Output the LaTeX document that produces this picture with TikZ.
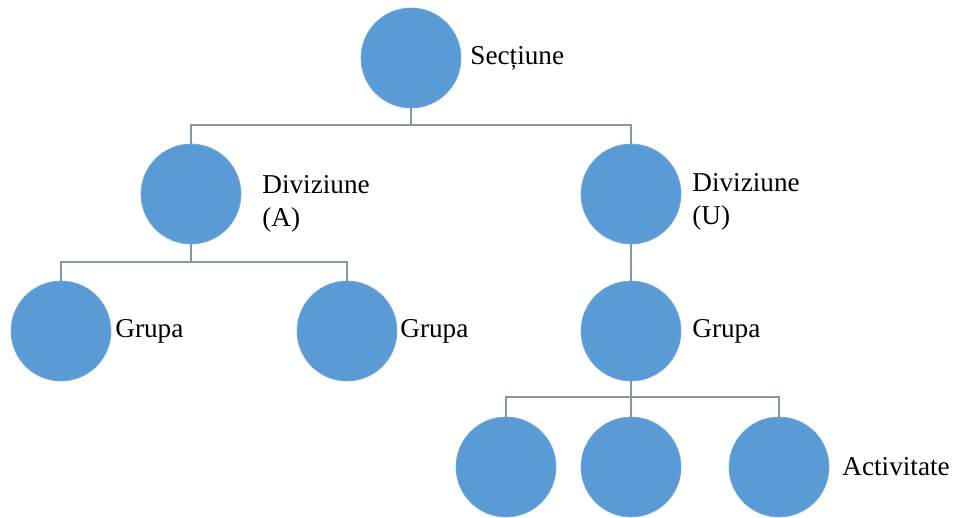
\documentclass[tikz,border=0pt]{standalone}
\usepackage{fontspec}
\setmainfont{Liberation Serif}
\usetikzlibrary{positioning}
\definecolor{nodeblue}{RGB}{91,155,213}
\definecolor{linkgray}{RGB}{128,152,172}

\begin{document}
\begin{tikzpicture}[
        x=0.02cm, y=-0.02cm,
        u/.style={circle, fill=nodeblue, draw=nodeblue!85!white, minimum size=2cm, inner sep=0pt},
        link/.style={draw=linkgray, line width=1pt},
        lbl/.style={anchor=west, font=\fontsize{15.5}{19}\selectfont, inner sep=0pt, align=left}
    ]
        \useasboundingbox (0,0) rectangle (979,517);

        \node[u] (sec)   at (411,58)  {};
        \node[u] (diva)  at (191,194) {};
        \node[u] (divu)  at (631,194) {};
        \node[u] (grpa1) at (61,331)  {};
        \node[u] (grpa2) at (347,331) {};
        \node[u] (grpu)  at (631,331) {};
        \node[u] (act1)  at (506,467) {};
        \node[u] (act2)  at (631,467) {};
        \node[u] (act3)  at (779,467) {};

        \node[lbl] (secl)   at (470,58)  {Secțiune};
        \node[lbl] (dival)  at (262,204) {Diviziune\\(A)};
        \node[lbl] (divul)  at (692,202) {Diviziune\\(U)};
        \node[lbl] (grpa1l) at (115,331) {Grupa};
        \node[lbl] (grpa2l) at (400,331) {Grupa};
        \node[lbl] (grpul)  at (692,331) {Grupa};
        \node[lbl] (actl)   at (842,467) {Activitate};

        \draw[link] (sec.south) -- ++(0,17) -| (diva.north);
        \draw[link] (sec.south) -- ++(0,17) -| (divu.north);
        \draw[link] (diva.south) -- ++(0,18) -| (grpa1.north);
        \draw[link] (diva.south) -- ++(0,18) -| (grpa2.north);
        \draw[link] (divu.south) -- (grpu.north);
        \draw[link] (grpu.south) -- ++(0,16) -| (act1.north);
        \draw[link] (grpu.south) -- ++(0,16) -| (act3.north);
        \draw[link] (grpu.south) -- (act2.north);
\end{tikzpicture}
\end{document}
